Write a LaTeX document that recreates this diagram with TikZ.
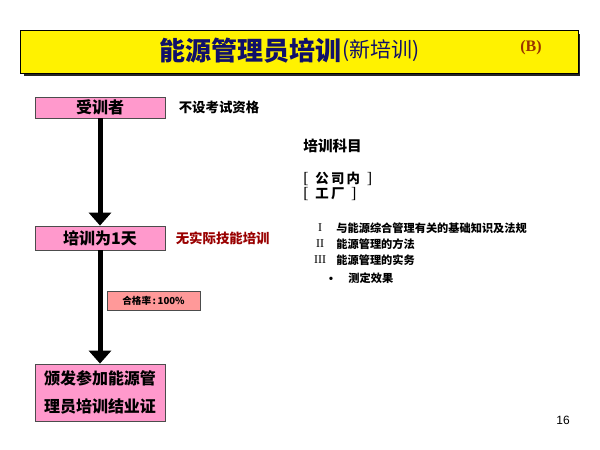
\documentclass[tikz,border=0pt]{standalone}
\usepackage{fontspec}
\setmainfont{Liberation Serif}
\newfontfamily\cjk{Noto Sans CJK SC}
\newfontfamily\pgnum{Liberation Sans}
\usetikzlibrary{arrows.meta,positioning}
\definecolor{pinkbox}{HTML}{FF99CC}
\definecolor{salmon}{HTML}{FF9999}
\definecolor{navy}{HTML}{10106A}
\definecolor{darkred}{HTML}{990000}
\definecolor{brownred}{HTML}{993300}
\newcommand{\brk}[1]{{\rmfamily\mdseries\fontsize{8}{8}\selectfont #1}}
\tikzstyle{titlebar}=[rectangle,draw=black,fill=yellow,minimum width=279pt,minimum height=21.5pt,inner sep=0pt]
\tikzstyle{stage}=[rectangle,draw=black!70,fill=pinkbox,align=center,minimum width=65pt,inner sep=0pt,font=\cjk\bfseries\fontsize{8}{14}\selectfont]
\tikzstyle{rate}=[rectangle,draw=black!70,fill=salmon,minimum width=46.5pt,minimum height=9.5pt,inner sep=0pt,font=\cjk\bfseries\fontsize{4.8}{6}\selectfont]
\tikzstyle{note}=[anchor=west,inner sep=0pt,font=\cjk\bfseries\fontsize{6.7}{8}\selectfont]
\tikzstyle{item}=[anchor=west,inner sep=0pt,font=\cjk\bfseries\fontsize{5.6}{7}\selectfont]
\tikzstyle{roman}=[inner sep=0pt,font=\rmfamily\fontsize{6}{7}\selectfont]
\tikzstyle{flow}=[-{Triangle[width=11pt,length=6.5pt]},line width=2.5pt]

\begin{document}
\begin{tikzpicture}[x=0.5pt,y=-0.5pt]
\useasboundingbox (0,0) rectangle (600,450);
% title
\fill[black!85] (24,34) rectangle (580,75.5);
\node[titlebar] (bar) at (299,51.5) {};
\node[anchor=west,inner sep=0pt,text=navy,font=\cjk\bfseries\fontsize{13}{15}\selectfont] (title) at (159,51) {能源管理员培训};
\node[anchor=west,inner sep=0pt,text=navy,font=\cjk\fontsize{10.5}{12}\selectfont] (sub) at (title.east) {(新培训)};
\node[inner sep=0pt,text=brownred,font=\bfseries\fontsize{8}{10}\selectfont] (ver) at (531,48) {(B)};
% flow
\node[stage,minimum height=10.5pt] (trainee) at (100,107.5) {受训者};
\node[stage,minimum height=12pt] (oneday) at (100,238) {培训为1天};
\node[stage,minimum height=28.5pt] (cert) at (100,392.5) {颁发参加能源管\\理员培训结业证};
\draw[flow] (trainee) -- (oneday);
\draw[flow] (oneday) -- (cert);
\node[rate] (pass) at (153.5,300.5) {合格率\,:\,100\%};
\node[note,right=6.5pt of trainee] (noexam) {不设考试资格};
\node[note,right=5pt of oneday,text=darkred] (noskill) {无实际技能培训};
% subjects
\node[note,font=\cjk\bfseries\fontsize{7.3}{9}\selectfont] (subj) at (303,146) {培训科目};
\node[note] (inside) at (303,179) {\brk{[}\enspace 公\,司\,内\enspace\brk{]}};
\node[note] (plant) at (303,194) {\brk{[}\enspace 工\,厂\enspace\brk{]}};
\node[roman] (r1) at (320,228) {I};
\node[roman] (r2) at (320,244) {II};
\node[roman] (r3) at (320,260) {III};
\node[item] (t1) at (336,228) {与能源综合管理有关的基础知识及法规};
\node[item] (t2) at (336,244) {能源管理的方法};
\node[item] (t3) at (336,260) {能源管理的实务};
\node[roman,font=\rmfamily\fontsize{7}{8}\selectfont] (dot) at (331,280) {•};
\node[item] (t4) at (348,278) {测定效果};
\node[inner sep=0pt,font=\pgnum\fontsize{6}{7}\selectfont] (page) at (563,420) {16};
\end{tikzpicture}
\end{document}
